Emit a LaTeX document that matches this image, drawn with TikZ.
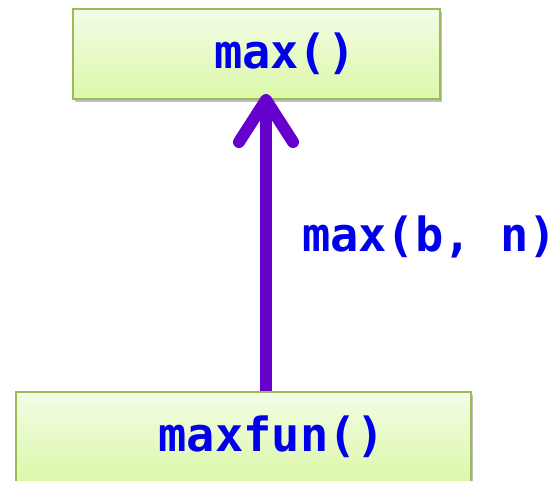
\documentclass[tikz,border=0pt]{standalone}
\usepackage{fontspec}
\setmonofont{DejaVu Sans Mono}
\usetikzlibrary{arrows.meta, shadows}
\definecolor{boxtop}{RGB}{243,252,230}
\definecolor{boxbot}{RGB}{219,248,168}
\definecolor{boxline}{RGB}{155,187,89}
\definecolor{codeblue}{RGB}{0,0,235}
\definecolor{callpurple}{RGB}{102,0,204}

\begin{document}
\begin{tikzpicture}[
    x=1pt, y=-1pt,
    func/.style={draw=boxline, line width=2pt, top color=boxtop,
                 bottom color=boxbot, inner sep=0pt, minimum height=90pt,
                 text=codeblue, font=\fontsize{47}{50}\selectfont\ttfamily\bfseries,
                 drop shadow={shadow xshift=2pt, shadow yshift=-3pt,
                              opacity=0.25, fill=black}},
    call/.style={-{Straight Barb[length=42pt, width=54pt, round]},
                 line width=12pt, color=callpurple},
    arg/.style ={text=codeblue, inner sep=0pt,
                 font=\fontsize{47}{50}\selectfont\ttfamily\bfseries},
]
\useasboundingbox (0,0) rectangle (557,481);
\node[func, minimum width=367pt] (max) at (256.5,54) {\phantom{xx}max()};
\node[func, minimum width=455pt] (maxfun) at (243.5,437) {\phantom{xx}maxfun()};
% the call goes up from maxfun to max
\draw[call] ([xshift=22.5pt]maxfun.north) -- ([xshift=9.5pt, yshift=6pt]max.south)
  node[arg, pos=0.52, right=30pt] (args) {max(b, n)};
\end{tikzpicture}
\end{document}
